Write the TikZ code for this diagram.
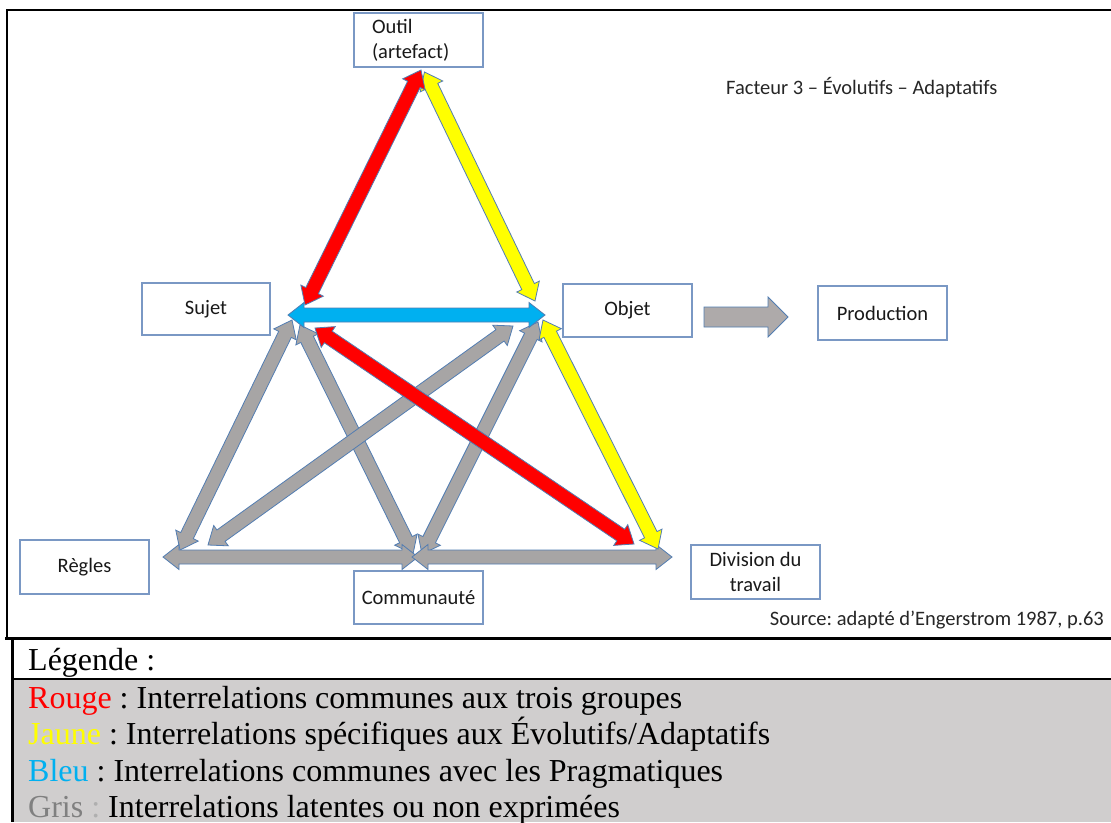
\documentclass[tikz,border=0pt]{standalone}
\usepackage{fontspec}
\setmainfont{Liberation Serif}
\newfontfamily\diagfont{Carlito}
\usetikzlibrary{calc}
\frenchspacing

\definecolor{boxline}{RGB}{122,152,196}
\definecolor{arrowedge}{RGB}{82,125,178}
\definecolor{arrowgray}{RGB}{167,165,165}
\definecolor{prodgray}{RGB}{174,170,170}
\definecolor{legendbg}{RGB}{208,206,206}
\definecolor{arrowblue}{RGB}{0,176,240}
\definecolor{arrowred}{RGB}{255,0,0}
\definecolor{arrowyellow}{RGB}{255,255,0}
\definecolor{grislabel}{RGB}{128,128,128}
\definecolor{grislight}{RGB}{175,175,175}

% block double arrow geometry: head length, half head width, half shaft width
\def\arrHL{16pt}
\def\arrHW{12.5pt}
\def\arrSW{7pt}

% filled double-headed block arrow between two named points
\newcommand\blockarrow[3]{%
  \draw[arrowstyle, fill=#1] (#2)
    -- ($(#2)!\arrHL!(#3)!\arrHW!90:(#3)$)
    -- ($(#2)!\arrHL!(#3)!\arrSW!90:(#3)$)
    -- ($(#3)!\arrHL!(#2)!\arrSW!-90:(#2)$)
    -- ($(#3)!\arrHL!(#2)!\arrHW!-90:(#2)$)
    -- (#3)
    -- ($(#3)!\arrHL!(#2)!\arrHW!90:(#2)$)
    -- ($(#3)!\arrHL!(#2)!\arrSW!90:(#2)$)
    -- ($(#2)!\arrHL!(#3)!\arrSW!-90:(#3)$)
    -- ($(#2)!\arrHL!(#3)!\arrHW!-90:(#3)$)
    -- cycle;}

\tikzset{
  box/.style={draw=boxline, line width=1.3pt, fill=white, inner sep=0pt,
    font=\diagfont\fontsize{20.5}{25}\selectfont, text=black!90},
  arrowstyle/.style={draw=arrowedge, line width=0.8pt, line join=miter},
  diagtext/.style={inner sep=0pt, font=\diagfont\fontsize{20.5}{25}\selectfont, text=black!85},
  legtext/.style={inner sep=0pt, anchor=base west, font=\fontsize{32}{36}\selectfont},
}

\begin{document}
\begin{tikzpicture}[x=1pt, y=-1pt]
\useasboundingbox (0,0) rectangle (1111,822);
\fill[white] (0,0) rectangle (1111,822);

% legend background
\fill[legendbg] (12,680) rectangle (1111,822);

% frame of the figure
\draw[line width=2pt] (1111,10) -- (7,10) -- (7,638);
\draw[line width=3.5pt] (5,638.5) -- (1111,638.5);
% legend frame
\draw[line width=2.5pt] (12.5,638) -- (12.5,822);
\draw[line width=1.5pt] (12,679) -- (1111,679);

% activity system nodes
\node[box, minimum width=129pt, minimum height=54pt, text width=93pt, align=left]
  (outil) at (418.5,40) {Outil\\(artefact)};
\node[box, minimum width=128pt, minimum height=52pt] (sujet) at (206,309) {\raisebox{-2pt}{Sujet}};
\node[box, minimum width=129pt, minimum height=53pt] (objet) at (627.5,310.5) {\raisebox{-2pt}{Objet}};
\node[box, minimum width=129pt, minimum height=54pt] (prod) at (882.5,313) {Production};
\node[box, minimum width=129pt, minimum height=54pt] (regles) at (84.5,567) {Règles};
\node[box, minimum width=129pt, minimum height=53pt] (comm) at (418.5,597.5) {Communauté};
\node[box, minimum width=129pt, minimum height=54pt, align=center]
  (div) at (755.5,572) {Division du\\travail};

% arrow end points
\coordinate (oR) at (421,70);
\coordinate (oY) at (424.5,72);
\coordinate (sR) at (305,305);
\coordinate (sB) at (288,315);
\coordinate (sGr) at (292,320);
\coordinate (sGc) at (300,325);
\coordinate (sRd) at (315,328);
\coordinate (bY) at (535,301);
\coordinate (bB) at (545,315);
\coordinate (bYd) at (543,320);
\coordinate (bGc) at (538,322);
\coordinate (bGr) at (513,326);
\coordinate (rS) at (180,550);
\coordinate (rO) at (208,545);
\coordinate (rC) at (163,557);
\coordinate (cS) at (413,554);
\coordinate (cO) at (422,554);
\coordinate (cL) at (418,557);
\coordinate (cR) at (412,557);
\coordinate (dR) at (634,544);
\coordinate (dY) at (658,549);
\coordinate (dC) at (672,557);
\coordinate (pa) at (704,317);
\coordinate (pb) at (788,317);

% latent relations (grey)
\blockarrow{arrowgray}{sGr}{rS}
\blockarrow{arrowgray}{sGc}{cS}
\blockarrow{arrowgray}{bGc}{cO}
\blockarrow{arrowgray}{bGr}{rO}
\blockarrow{arrowgray}{rC}{cL}
\blockarrow{arrowgray}{cR}{dC}

% common relations (red) and specific ones (yellow)
\blockarrow{arrowred}{sRd}{dR}
\blockarrow{arrowyellow}{bYd}{dY}
\blockarrow{arrowyellow}{oY}{bY}
\blockarrow{arrowred}{oR}{sR}
% shared with the pragmatics (blue)
\blockarrow{arrowblue}{sB}{bB}

% object towards production
\draw[arrowstyle, fill=prodgray] (pa) ++(0,-10) -- ++(64,0) -- ++(0,-10)
  -- (pb) -- ++(-20,20) -- ++(0,-10) -- ++(-64,0) -- cycle;

% captions
\node[diagtext, anchor=west] (titre) at (726,88) {Facteur 3 – Évolutifs – Adaptatifs};
\node[diagtext, anchor=east] (source) at (1104,620) {Source: adapté d’Engerstrom 1987, p.63};

% legend
\node[legtext] (leg) at (28,670) {Légende :};
\node[legtext] (legR) at (28,708) {\textcolor{arrowred}{Rouge} : Interrelations communes aux trois groupes};
\node[legtext] (legJ) at (28,744.5) {\textcolor{arrowyellow}{Jaune} : Interrelations spécifiques aux Évolutifs/Adaptatifs};
\node[legtext] (legB) at (28,781) {\textcolor{arrowblue}{Bleu} : Interrelations communes avec les Pragmatiques};
\node[legtext] (legG) at (28,817.5) {\textcolor{grislabel}{Gris} \textcolor{grislight}{:} Interrelations latentes ou non exprimées};
\end{tikzpicture}
\end{document}
